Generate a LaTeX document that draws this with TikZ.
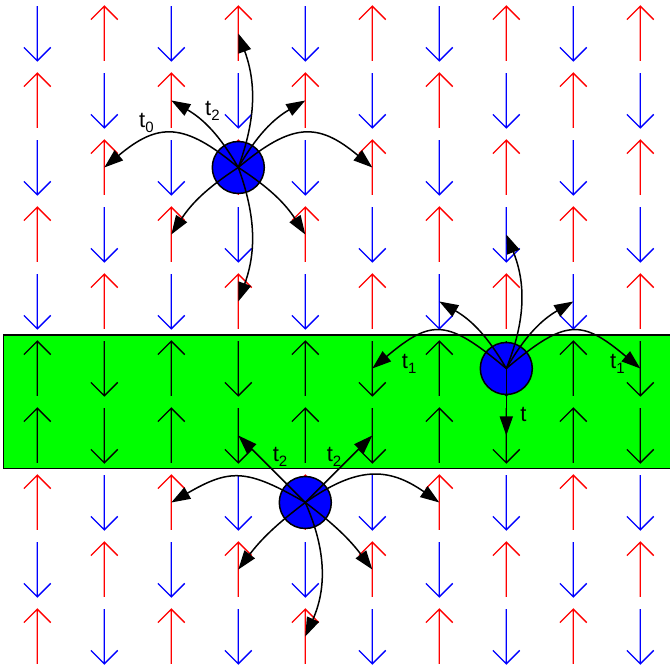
\documentclass[tikz,border=0pt]{standalone}
\usepackage{fontspec}
\setmainfont{Liberation Sans}
\usetikzlibrary{arrows.meta}
\definecolor{spinred}{RGB}{255,0,0}
\definecolor{spinblue}{RGB}{0,0,255}
\definecolor{bandgreen}{RGB}{0,255,0}
\definecolor{dotblue}{RGB}{0,0,255}
\newcommand\hsub[1]{\raisebox{-5pt}{\fontsize{15pt}{15pt}\selectfont #1}}
\newcommand\spinup[3]{\draw[spinline,#3] ({#1},{#2-0.408}) -- ({#1},{#2+0.408}) ({#1-0.2},{#2+0.208}) -- ({#1},{#2+0.408}) -- ({#1+0.2},{#2+0.208});}
\newcommand\spindown[3]{\draw[spinline,#3] ({#1},{#2+0.408}) -- ({#1},{#2-0.408}) ({#1-0.2},{#2-0.208}) -- ({#1},{#2-0.408}) -- ({#1+0.2},{#2-0.208});}
\begin{document}
\begin{tikzpicture}[x=67pt,y=67pt,
  spinline/.style={line width=1.3pt},
  hop/.style={line width=1.5pt,-{Triangle[length=19pt,width=13pt]}},
  qdot/.style={circle,draw=black,line width=1.5pt,fill=dotblue,minimum size=52pt,inner sep=0pt},
  lbl/.style={anchor=base west,inner sep=0pt,font=\fontsize{22pt}{22pt}\selectfont}]
\useasboundingbox (-0.5567,-0.4701) rectangle (9.4433,9.5);
\clip (-0.5567,-0.4701) rectangle (9.4433,9.5);
% green band
\draw[fill=bandgreen,line width=1.6pt] (-0.507,2.51) rectangle (9.7,4.5);
% sites
\foreach \i in {0,...,9}{
  \foreach \Y in {0,...,9}{
    \coordinate (p-\i-\Y) at (\i,\Y);
  }
}
% spins
\foreach \i in {0,...,9}{
  \foreach \j in {0,...,9}{
    \pgfmathtruncatemacro\Y{9-\j}
    \pgfmathtruncatemacro\g{or(\j==5,\j==6)}
    \ifnum\g=1
      \pgfmathtruncatemacro\d{mod(\i,2)}
      \ifnum\d=1 \spindown{\i}{\Y}{black}\else\spinup{\i}{\Y}{black}\fi
    \else
      \pgfmathtruncatemacro\d{1-mod(\i+\j,2)}
      \ifnum\d=1 \spindown{\i}{\Y}{spinblue}\else\spinup{\i}{\Y}{spinred}\fi
    \fi
  }
}
% dots
\node[qdot] (C1) at (p-3-7) {};
\node[qdot] (C2) at (p-4-2) {};
\node[qdot] (C3) at (p-7-4) {};
% hops from C1
\draw[hop] (C1.center) to[out=140,in=40,looseness=1.35] (p-1-7);
\draw[hop] (C1.center) to[bend right=15] (p-2-8);
\draw[hop] (C1.center) to[bend right=20] (p-3-9);
\draw[hop] (C1.center) to[bend left=15] (p-4-8);
\draw[hop] (C1.center) to[out=40,in=140,looseness=1.35] (p-5-7);
\draw[hop] (C1.center) to[bend right=12] (p-2-6);
\draw[hop] (C1.center) to[bend left=12] (p-4-6);
\draw[hop] (C1.center) to[bend left=20] (p-3-5);
% hops from C2
\draw[hop] (C2.center) to[out=150,in=30,looseness=1.3] (p-2-2);
\draw[hop] (C2.center) -- (p-3-3);
\draw[hop] (C2.center) -- (p-5-3);
\draw[hop] (C2.center) to[out=35,in=145,looseness=1.2] (p-6-2);
\draw[hop] (C2.center) to[bend right=8] (p-3-1);
\draw[hop] (C2.center) to[bend left=8] (p-5-1);
\draw[hop] (C2.center) to[bend left=24] (p-4-0);
% hops from C3
\draw[hop] (C3.center) to[out=140,in=40,looseness=1.48] (p-5-4);
\draw[hop] (C3.center) to[out=40,in=140,looseness=1.48] (p-9-4);
\draw[hop] (C3.center) to[bend right=15] (p-6-5);
\draw[hop] (C3.center) to[bend right=22] (p-7-6);
\draw[hop] (C3.center) to[bend left=15] (p-8-5);
\draw[hop] (C3.center) -- (p-7-3);
% labels
\node[lbl] (L0) at (1.518,7.590) {t\hsub{0}};
\node[lbl] (L1) at (2.503,7.776) {t\hsub{2}};
\node[lbl] (L2) at (3.513,2.609) {t\hsub{2}};
\node[lbl] (L3) at (4.319,2.609) {t\hsub{2}};
\node[lbl] (L4) at (5.439,4.003) {t\hsub{1}};
\node[lbl] (L5) at (8.548,4.003) {t\hsub{1}};
\node[lbl] (L6) at (7.206,3.206) {t};
\end{tikzpicture}
\end{document}
